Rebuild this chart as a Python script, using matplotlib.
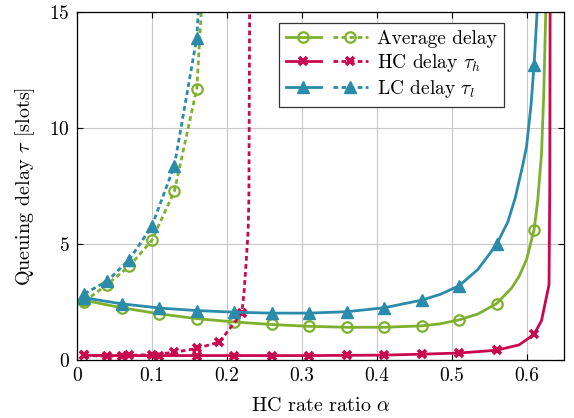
import numpy as np
import matplotlib
matplotlib.use("Agg")
import matplotlib.pyplot as plt
from matplotlib.legend_handler import HandlerTuple

plt.rcParams['font.family'] = 'cmr10'
plt.rcParams['mathtext.fontset'] = 'cm'
plt.rcParams['axes.formatter.use_mathtext'] = True
plt.rcParams['axes.unicode_minus'] = False

# ---- data ----
solid_marker_x = [0.01, 0.06, 0.11, 0.16, 0.21, 0.26, 0.31, 0.36, 0.41, 0.46, 0.51, 0.56, 0.61]
dashed_marker_x = [0.01, 0.04, 0.07, 0.10, 0.13, 0.16, 0.19, 0.22]

avg_solid_x = [0.01, 0.06, 0.11, 0.16, 0.21, 0.26, 0.31, 0.36, 0.41, 0.46, 0.485, 0.51, 0.535, 0.56,
               0.58, 0.59, 0.60, 0.61, 0.615, 0.62, 0.623, 0.626]
avg_solid_y = [2.57, 2.25, 1.99, 1.78, 1.64, 1.53, 1.45, 1.41, 1.41, 1.47, 1.56, 1.73, 1.98, 2.43,
               3.1, 3.6, 4.33, 5.6, 6.9, 8.9, 11.5, 15.5]

lc_solid_x = [0.01, 0.06, 0.11, 0.16, 0.21, 0.26, 0.31, 0.36, 0.41, 0.46, 0.485, 0.51, 0.535, 0.56,
              0.575, 0.585, 0.595, 0.60, 0.606, 0.61, 0.615]
lc_solid_y = [2.68, 2.42, 2.24, 2.13, 2.06, 2.02, 2.02, 2.08, 2.25, 2.58, 2.83, 3.2, 3.9, 4.98,
              5.95, 7.0, 8.4, 9.2, 11.0, 12.7, 15.5]

hc_solid_x = [0.01, 0.06, 0.11, 0.16, 0.21, 0.26, 0.31, 0.36, 0.41, 0.46, 0.51, 0.56, 0.59, 0.61,
              0.62, 0.63, 0.631, 0.6315]
hc_solid_y = [0.2, 0.19, 0.19, 0.19, 0.19, 0.19, 0.19, 0.2, 0.21, 0.25, 0.3, 0.42, 0.65, 1.1,
              1.7, 3.25, 7.5, 16.0]

avg_dash_x = [0.01, 0.04, 0.07, 0.10, 0.13, 0.16, 0.1665]
avg_dash_y = [2.52, 3.25, 4.04, 5.16, 7.27, 11.7, 15.3]

lc_dash_x = [0.01, 0.04, 0.07, 0.10, 0.13, 0.16, 0.1625]
lc_dash_y = [2.86, 3.39, 4.33, 5.77, 8.37, 13.9, 15.3]

hc_dash_x = [0.01, 0.04, 0.07, 0.10, 0.13, 0.16, 0.19, 0.22, 0.223, 0.226, 0.2285, 0.2295, 0.2305]
hc_dash_y = [0.2, 0.16, 0.2, 0.23, 0.33, 0.5, 0.77, 2.02, 2.9, 4.3, 5.6, 7.0, 15.3]

labels = ["Average delay", r"HC delay $\tau_h$", r"LC delay $\tau_l$"]
x_ticks = [0, 0.1, 0.2, 0.3, 0.4, 0.5, 0.6]
y_ticks = [0, 5, 10, 15]

GREEN = '#7EB02F'
RED = '#C8084F'
BLUE = '#2A8BAA'


def mark_idx(xs, marks):
    return [i for i, v in enumerate(xs) if any(abs(v - m) < 1e-9 for m in marks)]


fig = plt.figure(figsize=(5.74, 4.18), dpi=100)
ax = fig.add_axes([0.134, 0.1388, 0.8486, 0.8325])

lw = 2.0
dash = (1.7, 1.2)

common_o = dict(marker='o', markersize=7.5, markerfacecolor='none', markeredgewidth=1.6)
common_t = dict(marker='^', markersize=8)
common_x = dict(marker='x', markersize=5.5, markeredgewidth=2.6)

l_avg_s, = ax.plot(avg_solid_x, avg_solid_y, color=GREEN, lw=lw, markevery=mark_idx(avg_solid_x, solid_marker_x), **common_o)
l_avg_d, = ax.plot(avg_dash_x, avg_dash_y, color=GREEN, lw=lw, dashes=dash, markevery=mark_idx(avg_dash_x, dashed_marker_x), **common_o)
l_hc_s, = ax.plot(hc_solid_x, hc_solid_y, color=RED, lw=lw, markevery=mark_idx(hc_solid_x, solid_marker_x), **common_x)
l_hc_d, = ax.plot(hc_dash_x, hc_dash_y, color=RED, lw=lw, dashes=dash, markevery=mark_idx(hc_dash_x, dashed_marker_x), **common_x)
l_lc_s, = ax.plot(lc_solid_x, lc_solid_y, color=BLUE, lw=lw, markevery=mark_idx(lc_solid_x, solid_marker_x), **common_t)
l_lc_d, = ax.plot(lc_dash_x, lc_dash_y, color=BLUE, lw=lw, dashes=dash, markevery=mark_idx(lc_dash_x, dashed_marker_x), **common_t)

ax.set_xlim(0, 0.65)
ax.set_ylim(0, 15)
ax.set_xticks(x_ticks)
ax.set_xticklabels([("%g" % t) for t in x_ticks])
ax.set_yticks(y_ticks)
ax.grid(True, color='#C8C8C8', lw=0.8)
ax.set_axisbelow(True)
ax.tick_params(direction='in', top=True, right=True, length=4, width=0.8, labelsize=14, pad=5)
for s in ax.spines.values():
    s.set_linewidth(0.9)

ax.set_xlabel(r"HC rate ratio $\alpha$", fontsize=14.5, labelpad=9)
ax.set_ylabel(r"Queuing delay $\tau$ [slots]", fontsize=14.5, labelpad=9)

leg = ax.legend([(l_avg_s, l_avg_d), (l_hc_s, l_hc_d), (l_lc_s, l_lc_d)], labels,
                handler_map={tuple: HandlerTuple(ndivide=None, pad=0.6)},
                loc='upper left', bbox_to_anchor=(0.415, 0.967), borderaxespad=0,
                fontsize=14, handlelength=4.2, numpoints=1, fancybox=False,
                edgecolor='#333333', framealpha=1, borderpad=0.35, labelspacing=0.2,
                handletextpad=0.5)
leg.get_frame().set_linewidth(0.9)

fig.savefig('out.png', dpi=100)
